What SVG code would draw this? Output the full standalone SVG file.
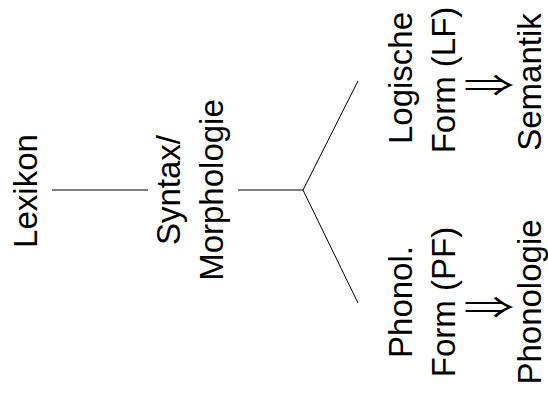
<svg xmlns="http://www.w3.org/2000/svg" width="548" height="399" viewBox="0 0 548 399">
<style>
text{font-family:"Liberation Sans",Arial,sans-serif;font-size:33px;fill:#000;text-anchor:middle}
text.ar{font-family:"Noto Sans CJK JP","DejaVu Sans",sans-serif;font-size:30px}
.c line{stroke:#000;stroke-width:1}
</style>
<rect width="548" height="399" fill="#fff"/>
<g class="c" id="connectors">
<line x1="52" y1="190" x2="148" y2="190"/>
<line x1="238" y1="190" x2="303" y2="190"/>
<line x1="303" y1="190" x2="358" y2="81"/>
<line x1="303" y1="190" x2="358" y2="303"/>
</g>
<g id="lexikon"><text transform="translate(37,191) rotate(-90)">Lexikon</text></g>
<g id="syntax"><text transform="translate(180,190) rotate(-90)">Syntax/</text><text transform="translate(223,190) rotate(-90)">Morphologie</text></g>
<g id="lf"><text transform="translate(412,78) rotate(-90)">Logische</text><text transform="translate(455,80) rotate(-90)">Form (LF)</text><text class="ar" transform="translate(489,96) scale(1.7,1)">⇒</text><text transform="translate(541,82) rotate(-90)">Semantik</text></g>
<g id="pf"><text transform="translate(412,302) rotate(-90)">Phonol.</text><text transform="translate(455,302) rotate(-90)">Form (PF)</text><text class="ar" transform="translate(489,318) scale(1.7,1)">⇒</text><text transform="translate(541,302) rotate(-90)">Phonologie</text></g>
</svg>
